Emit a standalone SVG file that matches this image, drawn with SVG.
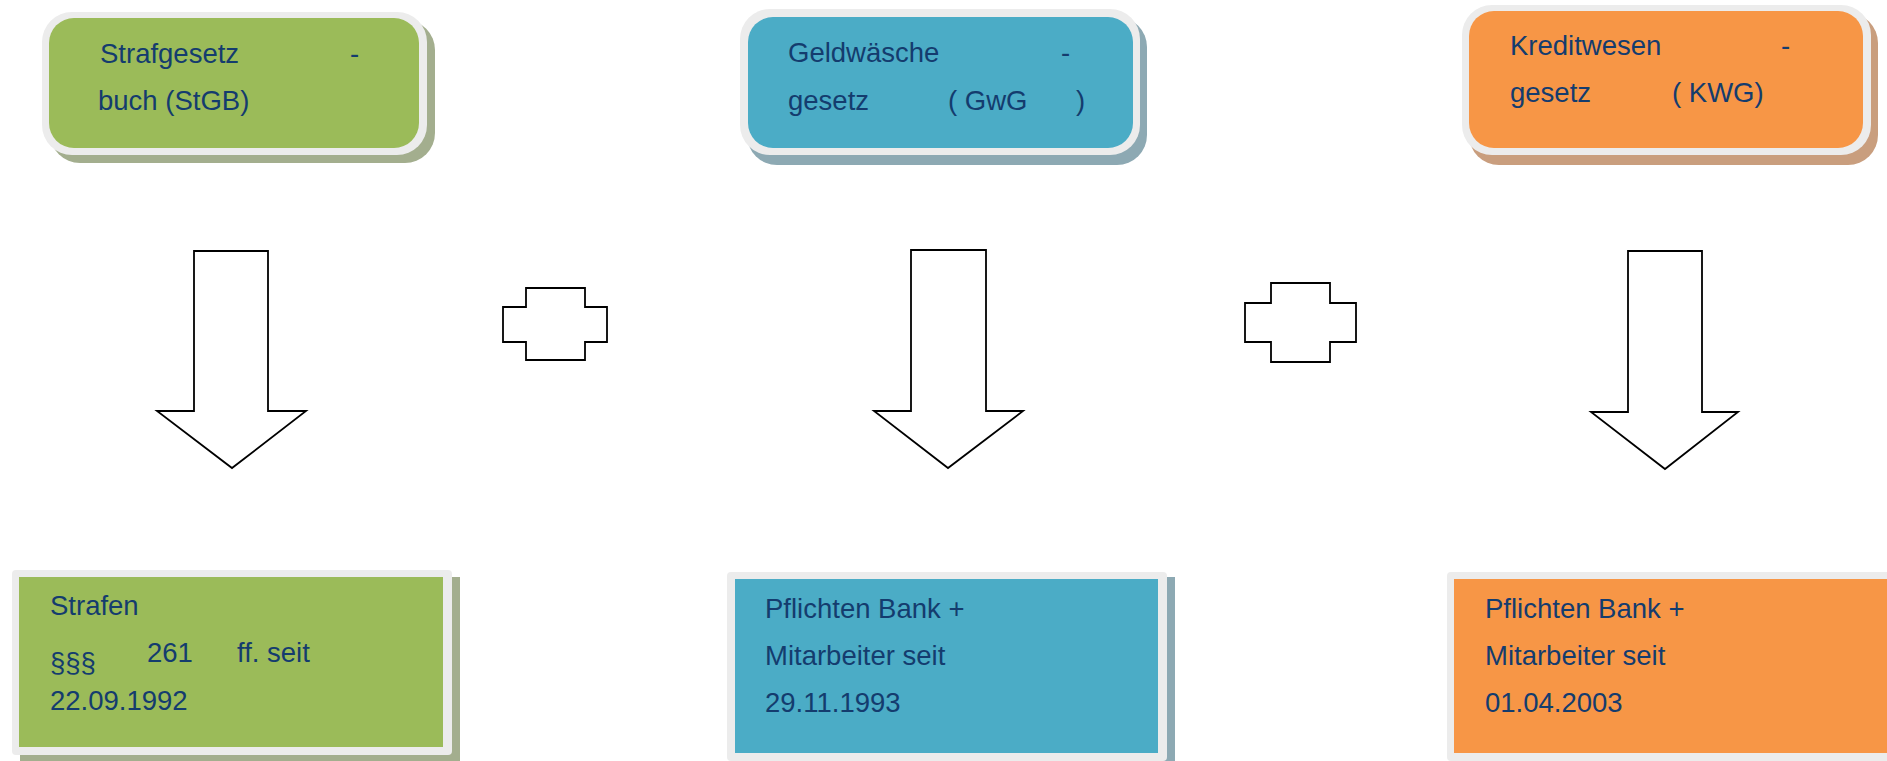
<svg xmlns="http://www.w3.org/2000/svg" width="1887" height="761" viewBox="0 0 1887 761">
  <style>
    .t { font-family: "Liberation Sans", Arial, sans-serif; font-size: 27.5px; fill: #143C6E; }
    .border { fill: #ECECEC; }
    .green { fill: #9BBB59; }
    .blue { fill: #4BACC6; }
    .orange { fill: #F79646; }
    .sg { fill: #A3AE8E; }
    .sb { fill: #8DA9B3; }
    .so { fill: #C99E7E; }
    .shape { fill: #FFFFFF; stroke: #000000; stroke-width: 1.8; stroke-linejoin: miter; }
  </style>
  <rect width="1887" height="761" fill="#FFFFFF"/>

  <g id="stgb">
    <rect class="sg" x="50" y="20" width="385" height="143" rx="30"/>
    <rect class="border" x="42" y="12" width="385" height="143" rx="30"/>
    <rect class="green" x="49" y="18" width="370" height="130" rx="25"/>
    <text class="t" x="100" y="63">Strafgesetz</text>
    <text class="t" x="350" y="63">-</text>
    <text class="t" x="98" y="110">buch (StGB)</text>
  </g>

  <g id="gwg">
    <rect class="sb" x="747" y="17" width="400" height="148" rx="30"/>
    <rect class="border" x="740" y="9" width="400" height="146" rx="30"/>
    <rect class="blue" x="748" y="17" width="385" height="131" rx="25"/>
    <text class="t" x="788" y="62">Geldwäsche</text>
    <text class="t" x="1061" y="62">-</text>
    <text class="t" x="788" y="110">gesetz</text>
    <text class="t" x="948" y="110">( GwG</text>
    <text class="t" x="1076" y="110">)</text>
  </g>

  <g id="kwg">
    <rect class="so" x="1469" y="13" width="409" height="152" rx="30"/>
    <rect class="border" x="1462" y="5" width="409" height="150" rx="30"/>
    <rect class="orange" x="1469" y="11" width="394" height="137" rx="25"/>
    <text class="t" x="1510" y="55">Kreditwesen</text>
    <text class="t" x="1781" y="55">-</text>
    <text class="t" x="1510" y="102">gesetz</text>
    <text class="t" x="1672" y="102">( KWG)</text>
  </g>

  <g id="strafen">
    <rect class="sg" x="20" y="577" width="440" height="190"/>
    <rect class="border" x="12" y="570" width="440" height="185" rx="4"/>
    <rect class="green" x="19" y="577" width="424" height="170"/>
    <text class="t" x="50" y="615">Strafen</text>
    <text class="t" x="50" y="672">§§§</text>
    <text class="t" x="147" y="662">261</text>
    <text class="t" x="237" y="662">ff. seit</text>
    <text class="t" x="50" y="710">22.09.1992</text>
  </g>

  <g id="pflichten-gwg">
    <rect class="sb" x="735" y="577" width="440" height="190"/>
    <rect class="border" x="727" y="572" width="440" height="189" rx="4"/>
    <rect class="blue" x="735" y="579" width="423" height="174"/>
    <text class="t" x="765" y="618">Pflichten Bank +</text>
    <text class="t" x="765" y="665">Mitarbeiter seit</text>
    <text class="t" x="765" y="712">29.11.1993</text>
  </g>

  <g id="pflichten-kwg">
    <rect class="so" x="1455" y="577" width="440" height="190"/>
    <rect class="border" x="1447" y="572" width="445" height="189" rx="4"/>
    <rect class="orange" x="1454" y="579" width="433" height="174"/>
    <text class="t" x="1485" y="618">Pflichten Bank +</text>
    <text class="t" x="1485" y="665">Mitarbeiter seit</text>
    <text class="t" x="1485" y="712">01.04.2003</text>
  </g>

  <g id="connectors">
    <polygon class="shape" points="194,251 268,251 268,411 306,411 232,468 157,411 194,411"/>
    <polygon class="shape" points="911,250 986,250 986,411 1023,411 948,468 874,411 911,411"/>
    <polygon class="shape" points="1628,251 1702,251 1702,412 1738,412 1665,469 1591,412 1628,412"/>
    <polygon class="shape" points="526,288 585,288 585,307 607,307 607,342 585,342 585,360 526,360 526,342 503,342 503,307 526,307"/>
    <polygon class="shape" points="1271,283 1330,283 1330,303 1356,303 1356,342 1330,342 1330,362 1271,362 1271,342 1245,342 1245,303 1271,303"/>
  </g>
</svg>
